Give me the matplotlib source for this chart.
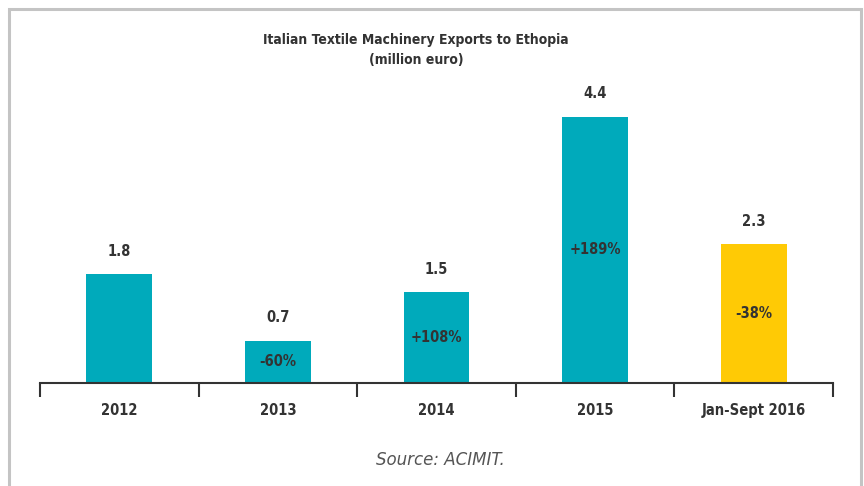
import matplotlib
matplotlib.use("Agg")
import matplotlib.pyplot as plt
from matplotlib.patches import Rectangle
from matplotlib import font_manager

# Data
categories = ['2012', '2013', '2014', '2015', 'Jan-Sept 2016']
values = [1.8, 0.7, 1.5, 4.4, 2.3]
changes = ['', '-60%', '+108%', '+189%', '-38%']
bar_colors = ['#00aabb', '#00aabb', '#00aabb', '#00aabb', '#ffca05']

# prefer a narrow face if one is installed
names = set(f.name for f in font_manager.fontManager.ttflist)
narrow = [n for n in ['Liberation Sans Narrow', 'DejaVu Sans Condensed'] if n in names]
plt.rcParams['font.family'] = narrow + ['DejaVu Sans']
plt.rcParams['font.stretch'] = 'condensed'
txt = '#333333'
fs = 11.5 if narrow else 10.5

fig = plt.figure(figsize=(8.64, 4.86), dpi=100)
# light grey frame around the chart
fig.patches.append(Rectangle((9 / 864, -0.05), 852 / 864, 1.05 - 9 / 486,
                             transform=fig.transFigure, fill=False,
                             edgecolor='#c4c4c4', linewidth=2.2))

ax = fig.add_axes([40 / 864, 103 / 486, 793 / 864, 321 / 486])
x = range(len(categories))
ax.bar(x, values, width=0.415, color=bar_colors)

for i, v in enumerate(values):
    ax.text(i, v + 0.25, format(v, '.1f'), ha='center', va='bottom',
            fontsize=fs, fontweight='bold', color=txt)
    if changes[i]:
        ax.text(i, v / 2, changes[i], ha='center', va='center',
                fontsize=fs, fontweight='bold', color=txt)

ax.set_xlim(-0.5, len(categories) - 0.5)
ax.set_ylim(0, 5.3)
ax.set_yticks([])
for s in ['top', 'right', 'left']:
    ax.spines[s].set_visible(False)
ax.spines['bottom'].set_color('#333333')
ax.spines['bottom'].set_linewidth(1.5)

ax.set_xticks([i - 0.5 for i in range(len(categories) + 1)])
ax.set_xticklabels([])
ax.tick_params(axis='x', direction='out', length=10, width=1.5, color='#333333')
for i, c in enumerate(categories):
    ax.text(i, -0.45, c, ha='center', va='center', fontsize=fs,
            fontweight='bold', color=txt)

fig.text(416 / 864, 1 - 40 / 486, 'Italian Textile Machinery Exports to Ethopia',
         ha='center', va='center', fontsize=fs * 0.95, fontweight='bold', color=txt)
fig.text(416 / 864, 1 - 60 / 486, '(million euro)',
         ha='center', va='center', fontsize=fs * 0.95, fontweight='bold', color=txt)
fig.text(440 / 864, 1 - 460 / 486, 'Source: ACIMIT.', ha='center', va='center',
         fontsize=12, style='italic', color='#555555',
         family='DejaVu Sans', stretch='normal')

fig.savefig('out.png', dpi=100)
